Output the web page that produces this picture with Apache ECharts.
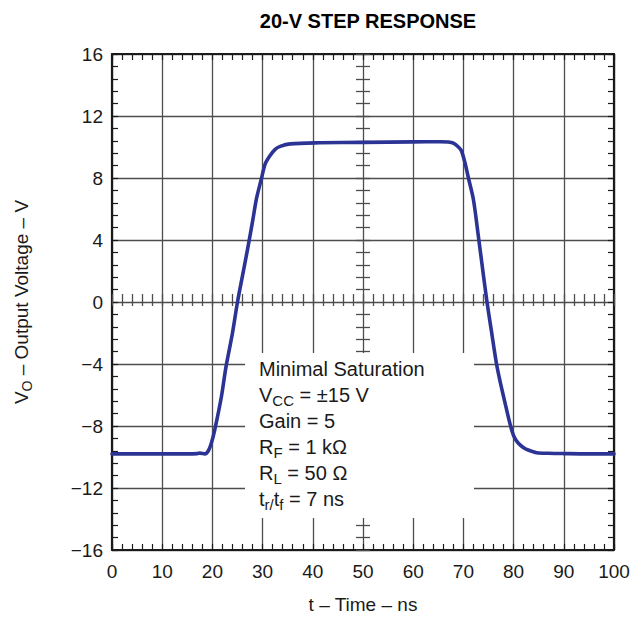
<!DOCTYPE html>
<html>
<head>
<meta charset="utf-8">
<script src="https://cdn.jsdelivr.net/npm/echarts@6/dist/echarts.min.js"></script>
<style>
html,body{margin:0;padding:0;background:#fff;}
#chart{width:642px;height:619px;}
</style>
</head>
<body>
<div id="chart"></div>
<script>
// ---- data ----
const timeNs = [0, 5, 10, 15, 17, 17.5, 18.5, 19.2, 19.8, 20.5, 21.8, 22.7, 24, 25, 26, 27, 28, 28.8, 29.8,
  30.5, 31.5, 32.5, 33.5, 35.5, 41.4, 50, 60, 65.3, 67, 68, 69, 69.6, 70.3, 71, 72, 73, 74, 74.7, 75.5,
  76.6, 77.5, 78.5, 79.4, 80.1, 80.9, 82, 82.9, 84.6, 87, 90, 95, 100];
const voltage = [-9.8, -9.8, -9.8, -9.8, -9.78, -9.75, -9.8, -9.6, -9.1, -8.2, -6.1, -4.2, -2.0, 0.0, 1.7, 3.4, 5.2, 6.7, 8.0,
  8.9, 9.45, 9.85, 10.04, 10.2, 10.27, 10.3, 10.33, 10.34, 10.32, 10.25, 10.0, 9.76, 9.0, 8.0, 6.6, 4.2, 1.7, 0.0, -1.7,
  -4.0, -5.4, -6.8, -8.0, -8.7, -9.1, -9.4, -9.55, -9.72, -9.76, -9.78, -9.8, -9.8];
const xTickValues = [0, 10, 20, 30, 40, 50, 60, 70, 80, 90, 100];
const yTickValues = [-16, -12, -8, -4, 0, 4, 8, 12, 16];
const annotationLines = [
  'Minimal Saturation',
  'V{s|CC}{n| = ±15 V}',
  'Gain = 5',
  'R{s|F}{n| = 1 kΩ}',
  'R{s|L}{n| = 50 Ω}',
  't{s|r/}{n|t}{s|f}{n| = 7 ns}'
];

const FONT = 'Liberation Sans, Arial, Helvetica, sans-serif';
const TXT = '#1a1a1a';
const GRID_C = '#4d4d4d';
const BORDER = '#1a1a1a';

const xMin = xTickValues[0], xMax = xTickValues[xTickValues.length - 1];
const yMin = yTickValues[0], yMax = yTickValues[yTickValues.length - 1];
const xInt = xTickValues[1] - xTickValues[0];
const yInt = yTickValues[1] - yTickValues[0];

const G = {left: 112, top: 54, width: 502, height: 500};

function xAx(extra) {
  return Object.assign({
    type: 'value', min: xMin, max: xMax, interval: xInt,
    axisLine: {show: false, onZero: false},
    axisTick: {show: true, inside: true, length: 6, lineStyle: {color: BORDER, width: 1.2}},
    minorTick: {show: true, splitNumber: 5, length: 6, lineStyle: {color: BORDER, width: 1.2}},
    axisLabel: {show: false},
    splitLine: {show: false}
  }, extra);
}
function yAx(extra) {
  return Object.assign({
    type: 'value', min: yMin, max: yMax, interval: yInt,
    axisLine: {show: false, onZero: false},
    axisTick: {show: true, inside: true, length: 6, lineStyle: {color: BORDER, width: 1.2}},
    minorTick: {show: true, splitNumber: 5, length: 6, lineStyle: {color: BORDER, width: 1.2}},
    axisLabel: {show: false},
    splitLine: {show: false}
  }, extra);
}

const chart = echarts.init(document.getElementById('chart'), null, {renderer: 'svg'});
chart.setOption({
  animation: false,
  backgroundColor: '#ffffff',
  title: {
    text: '20-V STEP RESPONSE',
    left: G.left + G.width / 2, top: 6, textAlign: 'center',
    textStyle: {fontFamily: FONT, fontSize: 20, fontWeight: 'bold', color: '#000'}
  },
  grid: G,
  xAxis: [
    xAx({
      position: 'bottom',
      axisLine: {show: true, onZero: false, lineStyle: {color: BORDER, width: 2.2}},
      axisLabel: {show: true, fontFamily: FONT, fontSize: 19, color: TXT, margin: 12},
      splitLine: {show: true, lineStyle: {color: GRID_C, width: 1.3}},
      name: 't – Time – ns', nameLocation: 'middle', nameGap: 45,
      nameTextStyle: {fontFamily: FONT, fontSize: 19, color: TXT}
    }),
    xAx({position: 'top', axisLine: {show: true, onZero: false, lineStyle: {color: BORDER, width: 2.2}}}),
    xAx({position: 'bottom', offset: -G.height / 2, axisTick: {show: true, inside: true, length: 6, lineStyle: {color: GRID_C, width: 1.3}},
         minorTick: {show: true, splitNumber: 5, length: 6, lineStyle: {color: GRID_C, width: 1.3}}}),
    xAx({position: 'bottom', offset: -G.height / 2, axisTick: {show: true, inside: false, length: 6, lineStyle: {color: GRID_C, width: 1.3}},
         minorTick: {show: true, splitNumber: 5, length: 6, lineStyle: {color: GRID_C, width: 1.3}}})
  ],
  yAxis: [
    yAx({
      position: 'left',
      axisLine: {show: true, onZero: false, lineStyle: {color: BORDER, width: 2.2}},
      axisLabel: {show: true, fontFamily: FONT, fontSize: 19, color: TXT, margin: 9,
        formatter: v => String(v).replace('-', '\u2212')},
      splitLine: {show: true, lineStyle: {color: GRID_C, width: 1.3}},
      name: '{a|V}{s|O}{a| – Output Voltage – V}', nameLocation: 'middle', nameGap: 78,
      nameTextStyle: {fontFamily: FONT, fontSize: 19, color: TXT,
        rich: {a: {fontFamily: FONT, fontSize: 19, color: TXT, lineHeight: 26},
               s: {fontFamily: FONT, fontSize: 14, color: TXT, lineHeight: 26, verticalAlign: 'bottom'}}}
    }),
    yAx({position: 'right', axisLine: {show: true, onZero: false, lineStyle: {color: BORDER, width: 2.2}}}),
    yAx({position: 'left', offset: -G.width / 2, axisTick: {show: true, inside: true, length: 7, lineStyle: {color: GRID_C, width: 1.3}},
         minorTick: {show: true, splitNumber: 5, length: 7, lineStyle: {color: GRID_C, width: 1.3}}}),
    yAx({position: 'left', offset: -G.width / 2, axisTick: {show: true, inside: false, length: 7, lineStyle: {color: GRID_C, width: 1.3}},
         minorTick: {show: true, splitNumber: 5, length: 7, lineStyle: {color: GRID_C, width: 1.3}}})
  ],
  graphic: [
    {type: 'rect', z: 1, shape: {x: 245, y: 353, width: 229, height: 165}, style: {fill: '#ffffff'}, silent: true},
    {type: 'text', z: 10, left: 259, top: 356, silent: true,
     style: {text: annotationLines.join('\n'), fontFamily: FONT, fontSize: 20, lineHeight: 26, fill: TXT,
       rich: {n: {fontFamily: FONT, fontSize: 20, lineHeight: 26, fill: TXT},
              s: {fontFamily: FONT, fontSize: 15, lineHeight: 26, fill: TXT, verticalAlign: 'bottom'}}}}
  ],
  series: [{
    type: 'line', z: 5, xAxisIndex: 0, yAxisIndex: 0,
    data: timeNs.map((t, i) => [t, voltage[i]]),
    showSymbol: false, smooth: 0.3,
    lineStyle: {color: '#2b3494', width: 3.6, cap: 'round', join: 'round'}
  }]
});
</script>
</body>
</html>
